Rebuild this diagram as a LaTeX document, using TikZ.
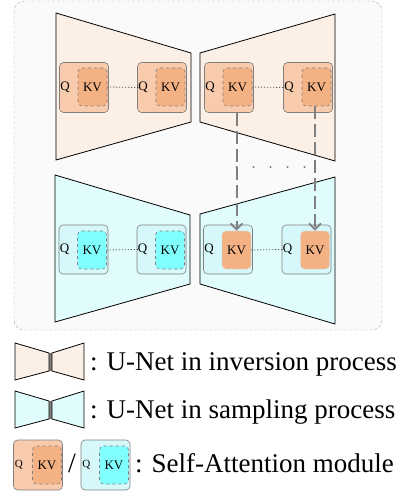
\documentclass[tikz,border=0pt]{standalone}
\usepackage{fontspec}
\setmainfont{Liberation Serif}
\usetikzlibrary{arrows.meta}

\definecolor{invbg}{HTML}{FBEFE6}
\definecolor{sambg}{HTML}{E0FCFC}
\definecolor{orgout}{HTML}{F8CBAD}
\definecolor{orgin}{HTML}{F4B183}
\definecolor{cyout}{HTML}{D6F8FA}
\definecolor{cyin}{HTML}{80FFFF}
\definecolor{framebg}{HTML}{FAFAFA}

\begin{document}
\begin{tikzpicture}[x=1pt,y=-1pt,
  attn/.style={draw=gray, line width=0.6pt, rounded corners=4pt, minimum width=49pt, minimum height=50pt, inner sep=0pt},
  kvbox/.style={draw=gray, dashed, line width=0.6pt, rounded corners=4pt, minimum width=29pt, minimum height=38pt, inner sep=0pt, font=\fontsize{13}{15}\selectfont},
  qtext/.style={inner sep=0pt, anchor=west, font=\fontsize{13}{15}\selectfont},
  link/.style={line width=0.8pt, dash pattern=on 0.9pt off 2.1pt},
  share/.style={draw=gray, line width=2pt, dash pattern=on 13pt off 5pt, -{Straight Barb[length=6pt,width=12pt,line width=1.8pt]}},
  unet/.style={draw=black, line width=0.8pt},
  lbl/.style={inner sep=0pt, anchor=base west, font=\fontsize{27}{32}\selectfont}]

\useasboundingbox (0,0) rectangle (400,492);

% frame
\draw[gray!70, fill=framebg, dash pattern=on 3pt off 2pt, rounded corners=10pt] (14,1) rectangle (382,330);

% U-Nets
\filldraw[unet, fill=invbg] (56,13) -- (191,53) -- (191,122) -- (56,160) -- cycle;
\filldraw[unet, fill=invbg] (200,53) -- (335,14) -- (335,161) -- (200,122) -- cycle;
\filldraw[unet, fill=sambg] (55,175) -- (190,215) -- (190,284) -- (55,322) -- cycle;
\filldraw[unet, fill=sambg] (200,214) -- (335,177) -- (335,324) -- (200,284) -- cycle;

% inversion modules
\foreach \i/\x in {1/84,2/162,3/229,4/308}{
  \node[attn, fill=orgout] (tm\i) at (\x,87.5) {};
  \node[kvbox, fill=orgin] (tk\i) at (\x+8.5,87) {KV};
  \node[qtext] (tq\i) at ([xshift=1pt]tm\i.west) {Q};
}

% sampling modules
\foreach \i/\x/\kc/\kd in {1/83.5/cyin/gray,2/161.5/cyin/gray,3/228/orgin/white,4/306.5/orgin/white}{
  \node[attn, fill=cyout, minimum height=49pt] (bm\i) at (\x,249.5) {};
  \node[kvbox, fill=\kc, draw=\kd!70!gray] (bk\i) at (\x+8.5,250) {KV};
  \node[qtext] (bq\i) at ([xshift=1pt]bm\i.west) {Q};
}

\draw[link] (tk1.east) -- (tq2.west)  (tk3.east) -- (tq4.west);
\draw[link] (bk1.east) -- (bq2.west)  (bk3.east) -- (bq4.west);

% KV sharing
\draw[share] (tm3.south -| bk3.north) -- (bk3.north);
\draw[share] (tk4.south -| bk4.north) -- (bk4.north);

\coordinate (g1) at (bk3.north |- 0,167);
\coordinate (g2) at (bk4.north |- 0,167);
\draw[gray, line width=2.5pt, line cap=round, dash pattern=on 0.01pt off 17pt] (g1) -- (g2);

% legend
\fill[gray] (49,353) rectangle (52,371);
\filldraw[unet, fill=invbg] (15,343) -- (49,353) -- (49,371) -- (15,380) -- cycle;
\filldraw[unet, fill=invbg] (52,353) -- (84,343) -- (84,380) -- (52,371) -- cycle;
\node[lbl] (l1) at (90,370) {: U-Net in inversion process};

\fill[gray] (49,401) rectangle (52,419);
\filldraw[unet, fill=sambg] (15,391) -- (49,401) -- (49,419) -- (15,428) -- cycle;
\filldraw[unet, fill=sambg] (52,401) -- (84,391) -- (84,428) -- (52,419) -- cycle;
\node[lbl] (l2) at (90,418) {: U-Net in sampling process};

\node[attn, fill=orgout] (lm1) at (38,465) {};
\node[kvbox, fill=orgin] (lk1) at (47,465) {KV};
\node[qtext, font=\fontsize{11}{13}\selectfont] (lq1) at ([xshift=1.5pt]lm1.west) {Q};
\node[inner sep=0pt, font=\fontsize{28}{32}\selectfont] (slash) at (72,463) {/};
\node[attn, fill=cyout] (lm2) at (105.5,465) {};
\node[kvbox, fill=cyin] (lk2) at (114,465) {KV};
\node[qtext, font=\fontsize{11}{13}\selectfont] (lq2) at ([xshift=1.5pt]lm2.west) {Q};
\node[lbl] (l3) at (135,472) {: Self-Attention module};

\end{tikzpicture}
\end{document}
